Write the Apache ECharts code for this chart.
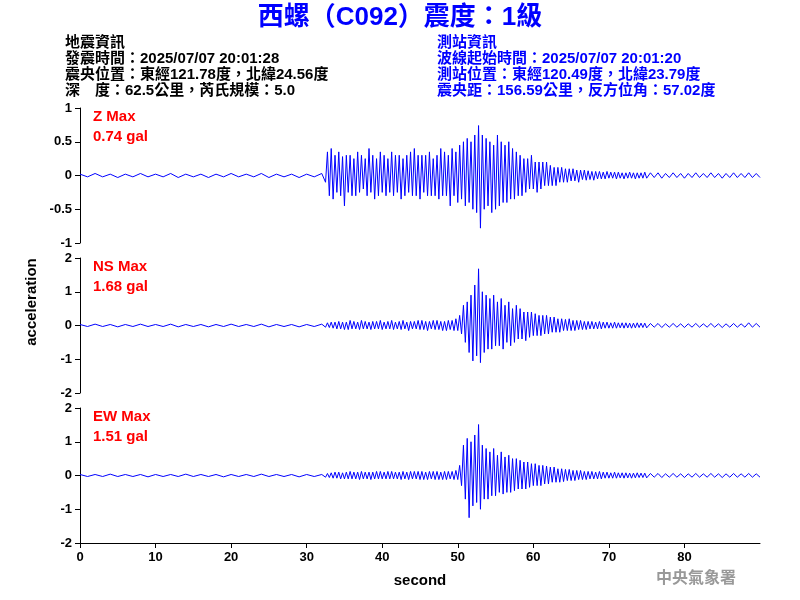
<!DOCTYPE html>
<html><head><meta charset="utf-8">
<script src="https://cdn.jsdelivr.net/npm/echarts@6/dist/echarts.min.js"></script>
<style>html,body{margin:0;background:#fff}#c{width:800px;height:600px}</style>
</head><body><div id="c"></div>
<script>
// sampling: 0..32 step 1 (noise), 32.25..75 step 0.25 (active), 75.5..90 step 0.5 (tail)
const zNoise=[0.02,-0.02,0.03,-0.02,0.02,-0.03,0.02,-0.02,0.03,-0.02,0.02,-0.02,0.03,-0.03,0.02,-0.02,0.02,-0.03,0.02,-0.02,0.03,-0.02,0.02,-0.02,0.03,-0.03,0.02,-0.02,0.02,-0.03,0.02,-0.02,0.03];
const zActive=[0.03,-0.1,0.35,-0.3, 0.4,-0.35,0.3,-0.25, 0.35,-0.3,0.28,-0.45, 0.3,-0.25,0.3,-0.3, 0.25,-0.3,0.35,-0.25, 0.3,-0.2,0.25,-0.3, 0.4,-0.25,0.3,-0.35, 0.25,-0.3,0.35,-0.25, 0.3,-0.3,0.25,-0.25, 0.35,-0.3,0.3,-0.25, 0.3,-0.35,0.25,-0.3, 0.3,-0.25,0.35,-0.3, 0.4,-0.3,0.3,-0.35, 0.3,-0.25,0.3,-0.3, 0.35,-0.3,0.25,-0.3, 0.3,-0.35,0.4,-0.3, 0.35,-0.3,0.3,-0.45, 0.4,-0.3,0.35,-0.4, 0.45,-0.35,0.5,-0.45, 0.55,-0.4,0.5,-0.5, 0.6,-0.55,0.74,-0.78, 0.6,-0.5,0.55,-0.45, 0.5,-0.55,0.45,-0.5, 0.6,-0.45,0.5,-0.4, 0.45,-0.4,0.5,-0.35, 0.4,-0.35,0.35,-0.3, 0.3,-0.3,0.25,-0.25, 0.25,-0.2,0.3,-0.2, 0.2,-0.25,0.2,-0.2, 0.2,-0.15,0.2,-0.15, 0.15,-0.15,0.12,-0.15, 0.12,-0.1,0.12,-0.1, 0.1,-0.1,0.1,-0.08, 0.1,-0.08,0.08,-0.1, 0.08,-0.06,0.08,-0.07, 0.07,-0.06,0.06,-0.07, 0.06,-0.05,0.06,-0.05, 0.05,-0.05,0.06,-0.04, 0.05,-0.04,0.05,-0.05, 0.05,-0.04,0.04,-0.05, 0.04,-0.04,0.05,-0.04, 0.04,-0.05,0.04,-0.04, 0.04,-0.04,0.05,-0.04];
const zTail=[0.04,-0.03,0.04,-0.04,0.03,-0.03,0.04,-0.03,0.03,-0.04,0.03,-0.03,0.04,-0.03,0.03,-0.03,0.04,-0.03,0.03,-0.04,0.03,-0.03,0.04,-0.03,0.03,-0.03,0.04,-0.03,0.03,-0.03];

const nsNoise=[0.03,-0.03,0.04,-0.03,0.03,-0.04,0.03,-0.03,0.04,-0.03,0.03,-0.03,0.04,-0.04,0.03,-0.03,0.03,-0.04,0.03,-0.03,0.04,-0.03,0.03,-0.03,0.04,-0.04,0.03,-0.03,0.03,-0.04,0.03,-0.03,0.04];
const nsActive=[0.05,-0.05,0.08,-0.06, 0.1,-0.08,0.1,-0.1, 0.12,-0.1,0.1,-0.12, 0.1,-0.12,0.15,-0.1, 0.12,-0.1,0.1,-0.12, 0.15,-0.1,0.12,-0.1, 0.1,-0.12,0.12,-0.1, 0.12,-0.1,0.15,-0.12, 0.1,-0.1,0.12,-0.1, 0.15,-0.12,0.1,-0.1, 0.12,-0.12,0.15,-0.1, 0.1,-0.15,0.12,-0.1, 0.12,-0.1,0.15,-0.12, 0.15,-0.12,0.12,-0.15, 0.12,-0.1,0.15,-0.12, 0.15,-0.12,0.12,-0.15, 0.12,-0.15,0.15,-0.12, 0.15,-0.15,0.2,-0.15, 0.3,-0.25,0.6,-0.5, 0.7,-0.8,0.9,-1.05, 1.2,-0.9,1.68,-1.1, 1.0,-0.8,0.9,-0.7, 0.8,-0.7,0.9,-0.6, 0.7,-0.6,0.8,-0.7, 0.6,-0.5,0.7,-0.6, 0.5,-0.5,0.6,-0.4, 0.5,-0.4,0.4,-0.45, 0.4,-0.35,0.4,-0.3, 0.35,-0.3,0.3,-0.3, 0.3,-0.25,0.3,-0.25, 0.25,-0.2,0.25,-0.2, 0.2,-0.2,0.2,-0.15, 0.18,-0.15,0.2,-0.15, 0.15,-0.15,0.15,-0.12, 0.15,-0.12,0.12,-0.12, 0.12,-0.1,0.12,-0.1, 0.1,-0.1,0.12,-0.1, 0.1,-0.08,0.1,-0.08, 0.08,-0.08,0.1,-0.08, 0.08,-0.07,0.08,-0.08, 0.08,-0.07,0.07,-0.08, 0.07,-0.07,0.08,-0.06, 0.07,-0.06,0.07,-0.07];
const nsTail=[0.06,-0.05,0.06,-0.06,0.05,-0.05,0.06,-0.05,0.05,-0.06,0.05,-0.05,0.06,-0.05,0.05,-0.05,0.06,-0.05,0.05,-0.06,0.05,-0.05,0.06,-0.05,0.05,-0.05,0.08,-0.05,0.06,-0.05];

const ewNoise=[0.03,-0.03,0.03,-0.03,0.04,-0.03,0.03,-0.03,0.03,-0.04,0.03,-0.03,0.03,-0.03,0.04,-0.03,0.03,-0.03,0.03,-0.04,0.03,-0.03,0.03,-0.03,0.04,-0.03,0.03,-0.03,0.03,-0.04,0.03,-0.03,0.03];
const ewActive=[0.04,-0.05,0.06,-0.06, 0.08,-0.08,0.1,-0.08, 0.1,-0.1,0.08,-0.1, 0.1,-0.1,0.12,-0.1, 0.1,-0.1,0.1,-0.12, 0.12,-0.1,0.1,-0.1, 0.1,-0.12,0.1,-0.1, 0.12,-0.1,0.12,-0.1, 0.1,-0.1,0.12,-0.1, 0.12,-0.1,0.1,-0.1, 0.1,-0.12,0.12,-0.1, 0.1,-0.12,0.12,-0.1, 0.12,-0.1,0.12,-0.12, 0.12,-0.12,0.1,-0.12, 0.12,-0.1,0.12,-0.12, 0.12,-0.12,0.1,-0.12, 0.12,-0.12,0.12,-0.1, 0.12,-0.12,0.15,-0.12, 0.3,-0.3,0.9,-0.7, 1.1,-1.25,1.0,-0.9, 1.2,-0.8,1.51,-1.0, 0.9,-0.7,0.8,-0.7, 0.7,-0.6,0.8,-0.6, 0.6,-0.5,0.7,-0.55, 0.55,-0.5,0.6,-0.5, 0.5,-0.45,0.5,-0.4, 0.45,-0.4,0.4,-0.4, 0.4,-0.35,0.35,-0.3, 0.35,-0.3,0.3,-0.3, 0.3,-0.25,0.28,-0.25, 0.25,-0.2,0.25,-0.2, 0.2,-0.2,0.2,-0.18, 0.18,-0.15,0.18,-0.15, 0.15,-0.15,0.15,-0.12, 0.15,-0.12,0.12,-0.12, 0.12,-0.1,0.12,-0.1, 0.1,-0.1,0.12,-0.1, 0.1,-0.08,0.1,-0.08, 0.08,-0.08,0.1,-0.08, 0.08,-0.07,0.08,-0.08, 0.08,-0.07,0.07,-0.08, 0.07,-0.07,0.08,-0.06, 0.07,-0.06,0.07,-0.07];
const ewTail=[0.06,-0.05,0.06,-0.06,0.05,-0.05,0.06,-0.05,0.05,-0.06,0.05,-0.05,0.06,-0.05,0.05,-0.05,0.06,-0.05,0.05,-0.06,0.05,-0.05,0.06,-0.05,0.05,-0.05,0.06,-0.05,0.05,-0.05];

const xTicks=[0,10,20,30,40,50,60,70,80];
const labels=[['Z Max','0.74 gal'],['NS Max','1.68 gal'],['EW Max','1.51 gal']];

function build(n,a,t){
  const out=[];
  n.forEach((v,i)=>out.push([i,v]));
  a.forEach((v,i)=>out.push([32+0.25*(i+1),v]));
  t.forEach((v,i)=>out.push([75.5+0.5*i,v]));
  return out;
}
const traces=[build(zNoise,zActive,zTail),build(nsNoise,nsActive,nsTail),build(ewNoise,ewActive,ewTail)];
const tops=[108,258,408];
const yR=[[-1,1,0.5],[-2,2,1],[-2,2,1]];
const F='"Liberation Sans", Arial, sans-serif';
const C='"Liberation Sans", "Noto Sans CJK TC", sans-serif';
const chart=echarts.init(document.getElementById('c'));
const g=[];
labels.forEach((l,i)=>{
  g.push({type:'text',left:93,top:tops[i]+1,style:{text:l[0],fill:'#ff0000',font:'bold 15px '+F}});
  g.push({type:'text',left:93,top:tops[i]+21,style:{text:l[1],fill:'#ff0000',font:'bold 15px '+F}});
});
const leftLines=['地震資訊','發震時間：2025/07/07 20:01:28','震央位置：東經121.78度，北緯24.56度','深　度：62.5公里，芮氏規模：5.0'];
const rightLines=['測站資訊','波線起始時間：2025/07/07 20:01:20','測站位置：東經120.49度，北緯23.79度','震央距：156.59公里，反方位角：57.02度'];
leftLines.forEach((s,i)=>g.push({type:'text',left:65,top:35+i*16,style:{text:s,fill:'#000',font:'bold 15px '+C}}));
rightLines.forEach((s,i)=>g.push({type:'text',left:437,top:35+i*16,style:{text:s,fill:'#0000ff',font:'bold 15px '+C}}));
g.push({type:'text',left:'center',top:5,style:{text:'西螺（C092）震度：1級',fill:'#0000ff',font:'bold 26px '+C}});
g.push({type:'text',x:32,y:302,rotation:Math.PI/2,style:{text:'acceleration',fill:'#000',font:'bold 15px '+F,align:'center',verticalAlign:'middle'}});
g.push({type:'text',left:656,top:571,style:{text:'中央氣象署',fill:'#999',font:'bold 16px '+C}});
chart.setOption({
  animation:false,
  graphic:g,
  grid:tops.map(t=>({left:80,right:40,top:t,height:135})),
  xAxis:[0,1,2].map(i=>({gridIndex:i,type:'value',min:0,max:90,interval:10,show:i===2,
    name:i===2?'second':'',nameLocation:'middle',nameGap:30,nameTextStyle:{fontSize:15,fontWeight:'bold',color:'#000',fontFamily:F},
    axisLine:{onZero:false,lineStyle:{color:'#000'}},axisTick:{lineStyle:{color:'#000'}},
    axisLabel:{color:'#000',fontSize:13,fontWeight:'bold',fontFamily:F,showMaxLabel:false},splitLine:{show:false}})),
  yAxis:[0,1,2].map(i=>({gridIndex:i,type:'value',min:yR[i][0],max:yR[i][1],interval:yR[i][2],
    axisLine:{show:true,lineStyle:{color:'#000'}},axisTick:{show:true,lineStyle:{color:'#000'}},
    axisLabel:{color:'#000',fontSize:13,fontWeight:'bold',fontFamily:F},splitLine:{show:false}})),
  series:traces.map((d,i)=>({type:'line',xAxisIndex:i,yAxisIndex:i,data:d,showSymbol:false,
    lineStyle:{color:'#0000ff',width:1},silent:true}))
});
</script></body></html>
